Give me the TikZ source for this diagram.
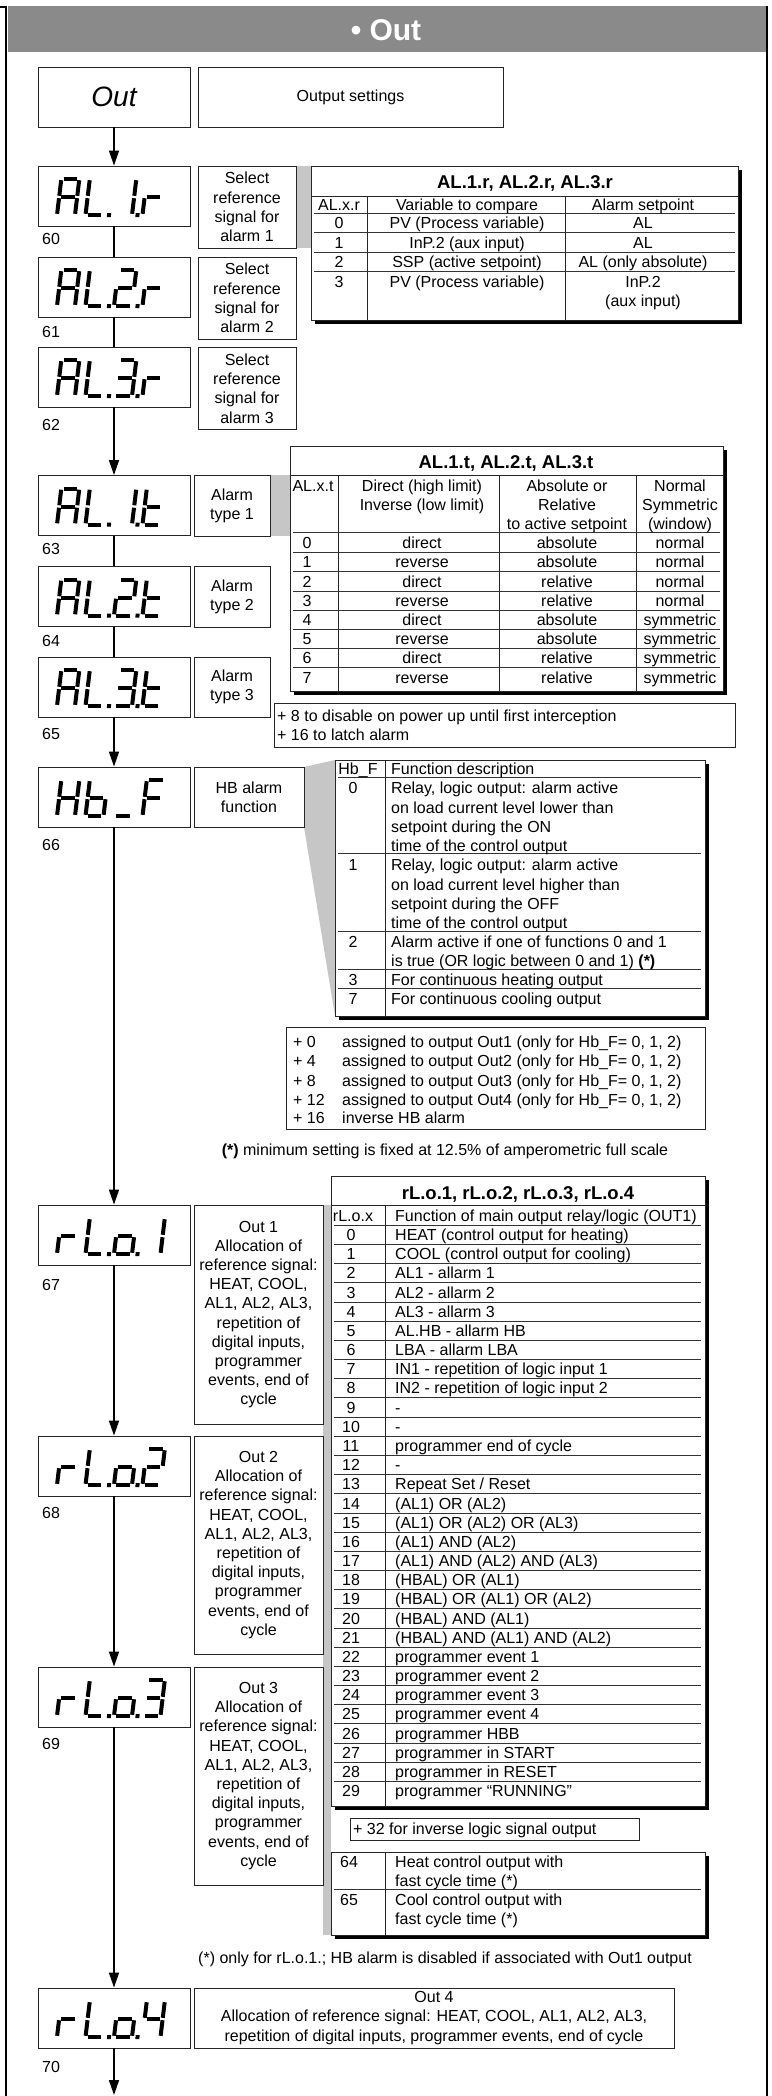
\documentclass[tikz,border=0pt]{standalone}
\usepackage{fontspec}
\setmainfont{Liberation Sans}
\usetikzlibrary{arrows.meta}
\definecolor{hdr}{HTML}{8A8A8A}
\definecolor{band}{HTML}{C6C6C6}
\newcounter{tn}
\newcommand\TL[4][]{\stepcounter{tn}\node[tl,#1] (t\arabic{tn}) at (#2,#3+5.6) {#4};}
\newcommand\TC[4][]{\stepcounter{tn}\node[tc,#1] (t\arabic{tn}) at (#2,#3+5.6) {#4};}
\newcommand\ssega{\draw[segline] (2.2,36) -- (15.8,36);}
\newcommand\ssegb{\draw[segline] (18,34.8) -- (18,19.2);}
\newcommand\ssegc{\draw[segline] (18,16.8) -- (18,1.2);}
\newcommand\ssegd{\draw[segline] (2.2,0) -- (15.8,0);}
\newcommand\ssege{\draw[segline] (0,1.2) -- (0,16.8);}
\newcommand\ssegf{\draw[segline] (0,19.2) -- (0,34.8);}
\newcommand\ssegg{\draw[segline] (2.2,18) -- (15.8,18);}
\newcommand\ssegp{\fill (21.5,-2) rectangle (25.5,2);}
\newcommand\sdigit[3]{\begin{scope}[shift={(#1,#2)},x=1pt,y=1pt,xslant=0.12]
  \foreach \q in {#3}{\csname sseg\q\endcsname}\end{scope}}
\newcommand\sdisp[5]{\sdigit{57}{#1+49}{#2}\sdigit{85.5}{#1+49}{#3}\sdigit{114}{#1+49}{#4}\sdigit{142.5}{#1+49}{#5}}
\begin{document}
\begin{tikzpicture}[x=1pt,y=-1pt,
  tl/.style={anchor=base west,inner sep=0pt,font=\fontsize{16}{19.2}\selectfont},
  tc/.style={anchor=base,inner sep=0pt,font=\fontsize{16}{19.2}\selectfont},
  bold/.style={font=\bfseries\fontsize{18.5}{22}\selectfont},
  tb/.style={draw=black!85,line width=0.9pt},
  rl/.style={draw=black!80,line width=1pt},
  disp/.style={draw=black!85,line width=0.9pt,minimum width=152pt,minimum height=60pt,inner sep=0pt},
  desc/.style={draw=black!85,line width=0.9pt,inner sep=0pt,align=center,font=\fontsize{16}{19.2}\selectfont},
  conn/.style={line width=1.6pt},
  arr/.style={conn,-{Triangle[length=15pt,width=10pt]}},
  segline/.style={line width=4pt}]
\useasboundingbox (0,0) rectangle (771,2096);
\fill[white] (0,0) rectangle (771,2096);
% frame and header
\fill[hdr] (8,6) rectangle (766,52);
\draw[line width=2pt] (0,7) -- (6,7) -- (6,2096);
\draw[line width=2pt] (767,6) -- (767,2096);
\node[font=\bfseries\fontsize{30}{36}\selectfont,text=white] (title) at (386,30) {• Out};

% grey callout bands
\fill[band] (296,166) rectangle (311,248);
\fill[band] (270,475) rectangle (290,536);
\fill[band] (304,767) -- (335,760) -- (335,1016) -- (304,827) -- cycle;
\fill[band] (323,1205) rectangle (331,1935);

% display boxes
\node[disp,font=\itshape\fontsize{28}{30}\selectfont] (dOut) at (114,97) {Out};
\node[disp] (dA1) at (114,196) {};
\node[disp] (dA2) at (114,287) {};
\node[disp] (dA3) at (114,377) {};
\node[disp] (dT1) at (114,505.5) {};
\node[disp] (dT2) at (114,596.5) {};
\node[disp] (dT3) at (114,687) {};
\node[disp] (dH) at (114,797) {};
\node[disp] (dR1) at (114,1235) {};
\node[disp] (dR2) at (114,1466) {};
\node[disp] (dR3) at (114,1697) {};
\node[disp] (dR4) at (114,2018) {};

% seven segment texts
\sdisp{166}{a,b,c,e,f,g}{d,e,f,p}{b,c,p}{e,g}
\sdisp{257}{a,b,c,e,f,g}{d,e,f,p}{a,b,g,e,d,p}{e,g}
\sdisp{347}{a,b,c,e,f,g}{d,e,f,p}{a,b,g,c,d,p}{e,g}
\sdisp{475.5}{a,b,c,e,f,g}{d,e,f,p}{b,c,p}{d,e,f,g}
\sdisp{566.5}{a,b,c,e,f,g}{d,e,f,p}{a,b,g,e,d,p}{d,e,f,g}
\sdisp{657}{a,b,c,e,f,g}{d,e,f,p}{a,b,g,c,d,p}{d,e,f,g}
\sdisp{767}{b,c,e,f,g}{c,d,e,f,g}{d}{a,e,f,g}
\sdisp{1205}{e,g}{d,e,f,p}{c,d,e,g,p}{b,c}
\sdisp{1436}{e,g}{d,e,f,p}{c,d,e,g,p}{a,b,g,e,d}
\sdisp{1667}{e,g}{d,e,f,p}{c,d,e,g,p}{a,b,g,c,d}
\sdisp{1988}{e,g}{d,e,f,p}{c,d,e,g,p}{f,g,b,c}

% parameter numbers
\TL{42}{239}{60}
\TL{42}{332}{61}
\TL{42}{425}{62}
\TL{42}{549}{63}
\TL{42}{641}{64}
\TL{42}{734}{65}
\TL{42}{845}{66}
\TL{42}{1285}{67}
\TL{42}{1513}{68}
\TL{42}{1744}{69}
\TL{42}{2067}{70}

% description boxes
\node[desc,minimum width=305pt,minimum height=60pt] (sOut) at (350.5,97) {Output settings};
\node[desc,minimum width=98pt,minimum height=82pt] (sA1) at (247,207) {Select\\reference\\signal for\\alarm 1};
\node[desc,minimum width=98pt,minimum height=82pt] (sA2) at (247,298) {Select\\reference\\signal for\\alarm 2};
\node[desc,minimum width=98pt,minimum height=82pt] (sA3) at (247,388.5) {Select\\reference\\signal for\\alarm 3};
\node[desc,minimum width=76pt,minimum height=61pt] (sT1) at (232,505.5) {Alarm\\type 1};
\node[desc,minimum width=76pt,minimum height=61pt] (sT2) at (232,596.5) {Alarm\\type 2};
\node[desc,minimum width=76pt,minimum height=60pt] (sT3) at (232,687) {Alarm\\type 3};
\node[desc,minimum width=110pt,minimum height=60pt] (sH) at (249,797) {HB alarm\\function};
\node[desc,minimum width=129pt,minimum height=219pt] (sR1) at (258.5,1314.5) {Out 1\\Allocation of\\reference signal:\\HEAT, COOL,\\AL1, AL2, AL3,\\repetition of\\digital inputs,\\programmer\\events, end of\\cycle};
\node[desc,minimum width=129pt,minimum height=218pt] (sR2) at (258.5,1545) {Out 2\\Allocation of\\reference signal:\\HEAT, COOL,\\AL1, AL2, AL3,\\repetition of\\digital inputs,\\programmer\\events, end of\\cycle};
\node[desc,minimum width=129pt,minimum height=218pt] (sR3) at (258.5,1776) {Out 3\\Allocation of\\reference signal:\\HEAT, COOL,\\AL1, AL2, AL3,\\repetition of\\digital inputs,\\programmer\\events, end of\\cycle};
\node[desc,minimum width=480pt,minimum height=60pt] (sR4) at (434,2018) {Out 4\\Allocation of reference signal: HEAT, COOL, AL1, AL2, AL3,\\repetition of digital inputs, programmer events, end of cycle};

% connectors
\draw[arr] (dOut.south) -- (dA1.north);
\draw[conn] (dA1.south) -- (dA2.north);
\draw[conn] (dA2.south) -- (dA3.north);
\draw[arr] (dA3.south) -- (dT1.north);
\draw[conn] (dT1.south) -- (dT2.north);
\draw[conn] (dT2.south) -- (dT3.north);
\draw[arr] (dT3.south) -- (dH.north);
\draw[arr] (dH.south) -- (dR1.north);
\draw[arr] (dR1.south) -- (dR2.north);
\draw[arr] (dR2.south) -- (dR3.north);
\draw[arr] (dR3.south) -- (dR4.north);
\coordinate (endpt) at (114,2095);
\draw[arr] (dR4.south) -- (endpt);

% ---- table AL.x.r
\fill (315,170) rectangle (742,324);
\filldraw[fill=white,tb] (311,166) rectangle (738,320);
\TC[bold]{525}{183}{AL.1.r, AL.2.r, AL.3.r}
\draw[tb] (311,196) -- (738,196);
\draw[tb] (367,196) -- (367,320);
\draw[tb] (565,196) -- (565,320);
\foreach \yy in {213.5,232.8,252.1,271.4} \draw[rl] (314,\yy) -- (735,\yy);
\TC{339}{205}{AL.x.r}\TC{467}{205}{Variable to compare}\TC{643}{205}{Alarm setpoint}
\TC{339}{223}{0}\TC{467}{223}{PV (Process variable)}\TC{643}{223}{AL}
\TC{339}{242.5}{1}\TC{467}{242.5}{InP.2 (aux input)}\TC{643}{242.5}{AL}
\TC{339}{262}{2}\TC{467}{262}{SSP (active setpoint)}\TC{643}{262}{AL (only absolute)}
\TC{339}{281.5}{3}\TC{467}{281.5}{PV (Process variable)}\TC{643}{281.5}{InP.2}
\TC{643}{301}{(aux input)}

% ---- table AL.x.t
\fill (294,450) rectangle (727,695);
\filldraw[fill=white,tb] (290,446) rectangle (723,691);
\TC[bold]{506}{463}{AL.1.t, AL.2.t, AL.3.t}
\draw[tb] (290,475) -- (723,475);
\foreach \xx in {338,499,636} \draw[tb] (\xx,475) -- (\xx,691);
\draw[rl] (293,532) -- (720,532);
\foreach \k in {0,...,6} \draw[rl] (293,{552.6+19.2*\k}) -- (720,{552.6+19.2*\k});
\TC{313}{486}{AL.x.t}
\TC{422}{486}{Direct (high limit)}\TC{422}{505}{Inverse (low limit)}
\TC{567}{486}{Absolute or}\TC{567}{505}{Relative}\TC{567}{524}{to active setpoint}
\TC{680}{486}{Normal}\TC{680}{505}{Symmetric}\TC{680}{524}{(window)}
\foreach \a/\b/\c [count=\k from 0] in {direct/absolute/normal,reverse/absolute/normal,direct/relative/normal,reverse/relative/normal,direct/absolute/symmetric,reverse/absolute/symmetric,direct/relative/symmetric,reverse/relative/symmetric}{
  \pgfmathsetmacro\yy{543+19.2*\k}
  \TC{307}{\yy}{\k}\TC{422}{\yy}{\a}\TC{567}{\yy}{\b}\TC{680}{\yy}{\c}}
\draw[tb] (274,703) rectangle (735,747);
\TL{277}{716}{+ 8 to disable on power up until first interception}
\TL{277}{735}{+ 16 to latch alarm}

% ---- table Hb_F
\fill (339,764) rectangle (709,1020);
\filldraw[fill=white,tb] (335,760) rectangle (705,1016);
\draw[tb] (385,760) -- (385,1016);
\foreach \yy in {777,853,931,969,988} \draw[rl] (338,\yy) -- (701,\yy);
\TC{358}{769}{Hb\_F}\TL{391}{769}{Function description}
\TC{353}{788}{0}
\TL{391}{788}{Relay, logic output: alarm active}
\TL{391}{807.5}{on load current level lower than}
\TL{391}{827}{setpoint during the ON}
\TL{391}{846}{time of the control output}
\TC{353}{865}{1}
\TL{391}{865}{Relay, logic output: alarm active}
\TL{391}{884.5}{on load current level higher than}
\TL{391}{904}{setpoint during the OFF}
\TL{391}{923}{time of the control output}
\TC{353}{942}{2}
\TL{391}{942}{Alarm active if one of functions 0 and 1}
\TL{391}{961}{is true (OR logic between 0 and 1) \textbf{(*)}}
\TC{353}{980}{3}\TL{391}{980}{For continuous heating output}
\TC{353}{999}{7}\TL{391}{999}{For continuous cooling output}
\draw[tb] (286,1027) rectangle (705,1129);
\foreach \a/\b [count=\k from 0] in {0/1,4/2,8/3,12/4}{
  \pgfmathsetmacro\yy{1042+19.3*\k}
  \TL{293}{\yy}{+ \a}\TL{342}{\yy}{assigned to output Out\b\ (only for Hb\_F= 0, 1, 2)}}
\TL{293}{1118}{+ 16}\TL{342}{1118}{inverse HB alarm}
\TC{445}{1150}{\textbf{(*)} minimum setting is fixed at 12.5\% of amperometric full scale}

% ---- table rL.o
\fill (335,1180) rectangle (709,1810);
\filldraw[fill=white,tb] (331,1176) rectangle (705,1806);
\TC[bold]{518}{1194}{rL.o.1, rL.o.2, rL.o.3, rL.o.4}
\draw[tb] (331,1205) -- (705,1205);
\draw[tb] (385,1205) -- (385,1806);
\draw[rl] (334,1225.4) -- (701,1225.4);
\foreach \k in {0,...,28} \draw[rl] (334,{1244.6+19.17*\k}) -- (701,{1244.6+19.17*\k});
\TC{353}{1216}{rL.o.x}\TL{395}{1216}{Function of main output relay/logic (OUT1)}
\foreach \t [count=\k from 0] in {HEAT (control output for heating),COOL (control output for cooling),AL1 - allarm 1,AL2 - allarm 2,AL3 - allarm 3,AL.HB - allarm HB,LBA - allarm LBA,IN1 - repetition of logic input 1,IN2 - repetition of logic input 2,-,-,programmer end of cycle,-,Repeat Set / Reset,(AL1) OR (AL2),(AL1) OR (AL2) OR (AL3),(AL1) AND (AL2),(AL1) AND (AL2) AND (AL3),(HBAL) OR (AL1),(HBAL) OR (AL1) OR (AL2),(HBAL) AND (AL1),(HBAL) AND (AL1) AND (AL2),programmer event 1,programmer event 2,programmer event 3,programmer event 4,programmer HBB,programmer in START,programmer in RESET,programmer “RUNNING”}{
  \pgfmathsetmacro\yy{1235+19.17*\k}
  \TC{351}{\yy}{\k}\TL{395}{\yy}{\t}}
\draw[tb] (350,1818) rectangle (639,1840);
\TL{353}{1829}{+ 32 for inverse logic signal output}

% ---- table 64/65
\fill (335,1856) rectangle (709,1939);
\filldraw[fill=white,tb] (331,1852) rectangle (705,1935);
\draw[tb] (385,1852) -- (385,1935);
\draw[rl] (334,1889.5) -- (701,1889.5);
\TL{340}{1862}{64}\TL{395}{1862}{Heat control output with}\TL{395}{1881}{fast cycle time (*)}
\TL{340}{1900}{65}\TL{395}{1900}{Cool control output with}\TL{395}{1919}{fast cycle time (*)}
\TC{445}{1958}{(*) only for rL.o.1.; HB alarm is disabled if associated with Out1 output}
\end{tikzpicture}
\end{document}
